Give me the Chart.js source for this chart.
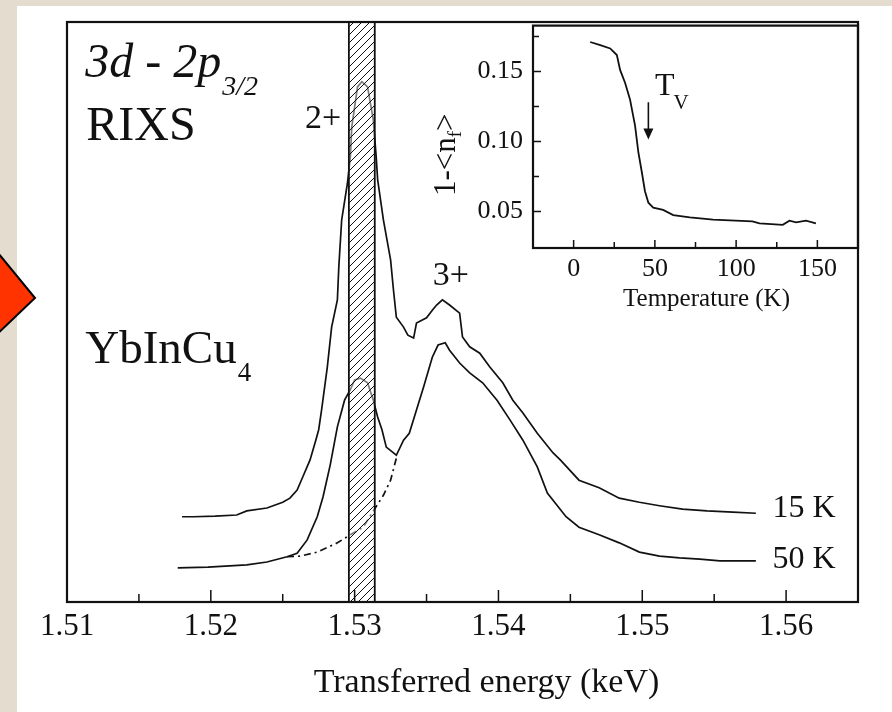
<!DOCTYPE html>
<html>
<head>
<meta charset="utf-8">
<script src="https://cdn.jsdelivr.net/npm/chart.js@4.4.0/dist/chart.umd.min.js"></script>
<style>
  html, body { margin: 0; padding: 0; }
  body { width: 892px; height: 712px; background: #e4dccf; position: relative; overflow: hidden; }
  #panel { position: absolute; left: 17px; top: 6px; right: 0; bottom: 0; background: #fff; }
  #pointer, #main { position: absolute; left: 0; top: 0; }
  #inset { position: absolute; left: 420px; top: 0; }
</style>
</head>
<body>
<div id="panel"></div>
<svg id="pointer" width="60" height="712"><polygon points="-6,248 35,298 -6,337" fill="#ff3300" stroke="#000" stroke-width="2"/></svg>
<canvas id="main" width="892" height="712"></canvas>
<canvas id="inset" width="472" height="330"></canvas>
<script>
// RIXS spectra, 15 K
const energy15 = [1.5180, 1.5188, 1.5203, 1.5218, 1.5225, 1.5239, 1.5250, 1.5255, 1.5260, 1.5264,
  1.5269, 1.5273, 1.5275, 1.5277, 1.5281, 1.5284, 1.5288, 1.5289, 1.5291, 1.5295, 1.5297, 1.5298,
  1.5302, 1.5305, 1.5309, 1.5313, 1.5315, 1.5316, 1.5320, 1.5325, 1.5327, 1.5329, 1.5334, 1.5337,
  1.5341, 1.5343, 1.5350, 1.5354, 1.5357, 1.5361, 1.5366, 1.5373, 1.5375, 1.5380, 1.5387, 1.5394,
  1.5403, 1.5410, 1.5417, 1.5427, 1.5438, 1.5443, 1.5456, 1.5470, 1.5484, 1.5498, 1.5512, 1.5528,
  1.5545, 1.5563, 1.5579];
const counts15 = [14.7, 14.7, 14.8, 15.0, 15.7, 16.2, 17.2, 17.9, 19.3, 21.6,
  24.5, 27.9, 29.7, 33.1, 40.5, 47.4, 52.1, 57.8, 65.9, 72.2, 76.7, 81.9,
  88.8, 89.7, 88.8, 83.1, 76.7, 72.8, 65.9, 59.0, 53.8, 49.1, 47.4, 46.0,
  45.5, 48.1, 49.0, 50.3, 51.2, 52.1, 51.2, 49.8, 45.7, 44.0, 42.9, 40.5,
  37.8, 34.8, 32.6, 29.1, 25.7, 24.5, 21.0, 19.7, 17.9, 17.2, 16.6, 16.0,
  15.7, 15.5, 15.3];

// RIXS spectra, 50 K
const energy50 = [1.5177, 1.5198, 1.5225, 1.5239, 1.5253, 1.5260, 1.5267, 1.5274, 1.5278, 1.5283,
  1.5288, 1.5293, 1.5297, 1.5300, 1.5304, 1.5309, 1.5313, 1.5316, 1.5319, 1.5322, 1.5329, 1.5334,
  1.5338, 1.5343, 1.5348, 1.5354, 1.5358, 1.5363, 1.5366, 1.5373, 1.5380, 1.5389, 1.5399, 1.5408,
  1.5417, 1.5427, 1.5434, 1.5447, 1.5456, 1.5470, 1.5484, 1.5498, 1.5512, 1.5526, 1.5540, 1.5554,
  1.5579];
const counts50 = [5.9, 6.0, 6.4, 6.9, 7.8, 8.4, 10.7, 14.7, 18.1, 23.6,
  30.2, 34.8, 36.6, 38.3, 38.6, 37.8, 34.8, 31.9, 29.7, 26.7, 25.3, 27.9,
  29.1, 33.1, 37.1, 42.2, 44.3, 44.7, 43.4, 41.2, 39.5, 37.8, 34.8, 31.4,
  27.9, 23.3, 18.8, 14.7, 12.9, 11.6, 10.2, 8.6, 7.9, 7.6, 7.4, 7.1,
  7.1];

// dashed background under the 50 K 2+ line
const energyBg = [1.5253, 1.5262, 1.5274, 1.5288, 1.5297, 1.5306, 1.5313, 1.5320, 1.5325, 1.5329];
const countsBg = [7.8, 7.9, 8.6, 10.2, 11.6, 12.9, 15.7, 18.4, 21.0, 24.8];

// hatched energy window
const band = [1.5296, 1.5314];

const energyTicks = [1.51, 1.52, 1.53, 1.54, 1.55, 1.56];
const energyMinor = [1.515, 1.525, 1.535, 1.545, 1.555, 1.565];

// inset: 1-<nf> vs temperature
const tempK = [10.2, 16.4, 22.5, 26.6, 28.6, 31.7, 34.7, 37.8, 39.8, 41.9, 43.9, 46.0, 49.0,
  55.1, 61.3, 71.5, 85.8, 110.0, 114.4, 128.7, 132.8, 136.9, 143.0, 149.1];
const holes = [0.171, 0.1687, 0.1664, 0.1617, 0.1511, 0.1418, 0.130, 0.1114, 0.0926, 0.0786, 0.0645, 0.0563, 0.0528,
  0.0512, 0.0475, 0.0458, 0.0442, 0.0430, 0.0416, 0.0405, 0.0435, 0.0423, 0.0435, 0.0416];
const tempTicks = [0, 50, 100, 150];
const tempMinor = [25, 75, 125];
const holeTicks = [0.05, 0.10, 0.15];
const holeMinor = [0.075, 0.125, 0.175];

const serif = '"Liberation Serif", "Times New Roman", serif';
const ink = '#111';

const mainNotes = [
  { text: '3d - 2p', sub: '3/2', x: 1.51127, y: 90.5, size: 48, italic: true },
  { text: 'RIXS', x: 1.51134, y: 79.7, size: 48 },
  { text: 'YbInCu', sub: '4', x: 1.51127, y: 41.2, size: 47 },
  { text: '2+', x: 1.52655, y: 81.7, size: 34 },
  { text: '3+', x: 1.53544, y: 54.7, size: 34 },
  { text: '15 K', x: 1.55905, y: 14.7, size: 32 },
  { text: '50 K', x: 1.55905, y: 5.9, size: 32 }
];
const tvArrow = { t: 46, from: 0.128, to: 0.1015 };
const tvLabel = { t: 50, y: 0.1334 };

const toPoints = (xs, ys) => xs.map((x, i) => ({ x: x, y: ys[i] }));

function hatch() {
  const c = document.createElement('canvas');
  c.width = 8; c.height = 8;
  const g = c.getContext('2d');
  g.fillStyle = 'rgba(255,255,255,0.45)';
  g.fillRect(0, 0, 8, 8);
  g.strokeStyle = ink;
  g.lineWidth = 1;
  g.beginPath();
  g.moveTo(0, 8); g.lineTo(8, 0);
  g.moveTo(-1, 1); g.lineTo(1, -1);
  g.moveTo(7, 9); g.lineTo(9, 7);
  g.stroke();
  return g.createPattern(c, 'repeat');
}

function tickMarks(ctx, scale, values, len, horizontal, edge, dir) {
  ctx.beginPath();
  values.forEach(v => {
    const p = scale.getPixelForValue(v);
    if (horizontal) { ctx.moveTo(p, edge); ctx.lineTo(p, edge + dir * len); }
    else { ctx.moveTo(edge, p); ctx.lineTo(edge + dir * len, p); }
  });
  ctx.stroke();
}

const mainDecor = {
  id: 'mainDecor',
  afterDatasetsDraw(chart) {
    const { ctx, chartArea: a, scales: { x, y } } = chart;
    ctx.save();
    ctx.strokeStyle = ink;
    ctx.lineWidth = 1.5;
    tickMarks(ctx, x, energyTicks, 12, true, a.bottom, -1);
    tickMarks(ctx, x, energyMinor, 8, true, a.bottom, -1);
    ctx.lineWidth = 2.2;
    ctx.strokeRect(a.left, a.top, a.right - a.left, a.bottom - a.top);

    ctx.fillStyle = ink;
    ctx.textBaseline = 'alphabetic';
    ctx.textAlign = 'left';
    mainNotes.forEach(n => {
      const px = x.getPixelForValue(n.x), py = y.getPixelForValue(n.y);
      const style = n.italic ? 'italic ' : '';
      ctx.font = style + n.size + 'px ' + serif;
      ctx.fillText(n.text, px, py);
      if (n.sub) {
        const w = ctx.measureText(n.text).width;
        ctx.font = style + Math.round(n.size * 0.58) + 'px ' + serif;
        ctx.fillText(n.sub, px + w + 1, py + 18);
      }
    });

    ctx.font = '34px ' + serif;
    ctx.textAlign = 'center';
    ctx.fillText('Transferred energy (keV)', (a.left + a.right) / 2 + 24, 692);
    ctx.restore();
  }
};

const insetDecor = {
  id: 'insetDecor',
  afterDatasetsDraw(chart) {
    const { ctx, chartArea: a, scales: { x, y } } = chart;
    ctx.save();
    ctx.strokeStyle = ink;
    ctx.fillStyle = ink;
    ctx.lineWidth = 1.5;
    tickMarks(ctx, x, tempTicks, 8, true, a.bottom, -1);
    tickMarks(ctx, x, tempMinor, 6, true, a.bottom, -1);
    tickMarks(ctx, y, holeTicks, 8, false, a.left, 1);
    tickMarks(ctx, y, holeMinor, 6, false, a.left, 1);
    ctx.lineWidth = 2.2;
    ctx.strokeRect(a.left, a.top, a.right - a.left, a.bottom - a.top);

    // T_V arrow
    const ax = x.getPixelForValue(tvArrow.t);
    const y0 = y.getPixelForValue(tvArrow.from), y1 = y.getPixelForValue(tvArrow.to);
    ctx.lineWidth = 1.6;
    ctx.beginPath(); ctx.moveTo(ax, y0); ctx.lineTo(ax, y1 - 8); ctx.stroke();
    ctx.beginPath(); ctx.moveTo(ax - 5, y1 - 11); ctx.lineTo(ax + 5, y1 - 11); ctx.lineTo(ax, y1); ctx.closePath(); ctx.fill();

    const tx = x.getPixelForValue(tvLabel.t), ty = y.getPixelForValue(tvLabel.y);
    ctx.textAlign = 'left';
    ctx.textBaseline = 'alphabetic';
    ctx.font = '32px ' + serif;
    ctx.fillText('T', tx, ty);
    const tw = ctx.measureText('T').width;
    ctx.font = '21px ' + serif;
    ctx.fillText('V', tx + tw - 1, ty + 14);

    // y title 1-<nf>
    ctx.save();
    ctx.translate(a.left - 86, (a.top + a.bottom) / 2 + 18);
    ctx.rotate(-Math.PI / 2);
    ctx.textBaseline = 'middle';
    ctx.font = '31px ' + serif;
    const w1 = ctx.measureText('1-<n').width, w3 = ctx.measureText('>').width;
    ctx.font = '19px ' + serif;
    const w2 = ctx.measureText('f').width;
    let sx = -(w1 + w2 + w3) / 2;
    ctx.font = '31px ' + serif;
    ctx.fillText('1-<n', sx, 0);
    ctx.font = '19px ' + serif;
    ctx.fillText('f', sx + w1, 9);
    ctx.font = '31px ' + serif;
    ctx.fillText('>', sx + w1 + w2, 0);
    ctx.restore();

    ctx.font = '25px ' + serif;
    ctx.textAlign = 'center';
    ctx.fillText('Temperature (K)', (a.left + a.right) / 2 + 11, 306);
    ctx.restore();
  }
};

new Chart(document.getElementById('main'), {
  type: 'line',
  data: {
    datasets: [
      { label: 'window', data: toPoints([band[0], band[0], band[1], band[1]], [0, 100, 100, 0]),
        fill: 'origin', backgroundColor: hatch(), borderColor: ink, borderWidth: 1.8, pointRadius: 0 },
      { label: '15 K', data: toPoints(energy15, counts15), borderColor: ink, borderWidth: 1.7, pointRadius: 0, fill: false },
      { label: '50 K', data: toPoints(energy50, counts50), borderColor: ink, borderWidth: 1.7, pointRadius: 0, fill: false },
      { label: 'background', data: toPoints(energyBg, countsBg), borderColor: ink, borderWidth: 1.7,
        borderDash: [7, 4, 2, 4], pointRadius: 0, fill: false }
    ]
  },
  options: {
    responsive: false,
    animation: false,
    layout: { padding: { left: 67, top: 22, right: 34 } },
    plugins: { legend: { display: false }, tooltip: { enabled: false } },
    scales: {
      x: {
        type: 'linear', min: 1.51, max: 1.565,
        afterBuildTicks: s => { s.ticks = energyTicks.map(v => ({ value: v })); },
        afterFit: s => { s.height = 110; },
        grid: { display: false, drawTicks: false },
        border: { display: false },
        ticks: { padding: 6, color: ink, maxRotation: 0, autoSkip: false,
          font: { family: serif, size: 31 }, callback: v => v.toFixed(2) }
      },
      y: { display: false, min: 0, max: 100 }
    }
  },
  plugins: [mainDecor]
});

new Chart(document.getElementById('inset'), {
  type: 'line',
  data: {
    datasets: [
      { label: '1-<nf>', data: toPoints(tempK, holes), borderColor: ink, borderWidth: 1.8, pointRadius: 0, fill: false }
    ]
  },
  options: {
    responsive: false,
    animation: false,
    layout: { padding: { top: 22, right: 34 } },
    plugins: { legend: { display: false }, tooltip: { enabled: false } },
    scales: {
      x: {
        type: 'linear', min: -25, max: 175,
        afterBuildTicks: s => { s.ticks = tempTicks.map(v => ({ value: v })); },
        afterFit: s => { s.height = 82; },
        grid: { display: false, drawTicks: false },
        border: { display: false },
        ticks: { padding: 6, color: ink, maxRotation: 0, autoSkip: false,
          font: { family: serif, size: 26 }, callback: v => String(v) }
      },
      y: {
        type: 'linear', min: 0.024, max: 0.1827,
        afterBuildTicks: s => { s.ticks = holeTicks.map(v => ({ value: v })); },
        afterFit: s => { s.width = 113; },
        grid: { display: false, drawTicks: false },
        border: { display: false },
        ticks: { padding: 10, color: ink, font: { family: serif, size: 26 }, callback: v => v.toFixed(2) }
      }
    }
  },
  plugins: [insetDecor]
});
</script>
</body>
</html>
